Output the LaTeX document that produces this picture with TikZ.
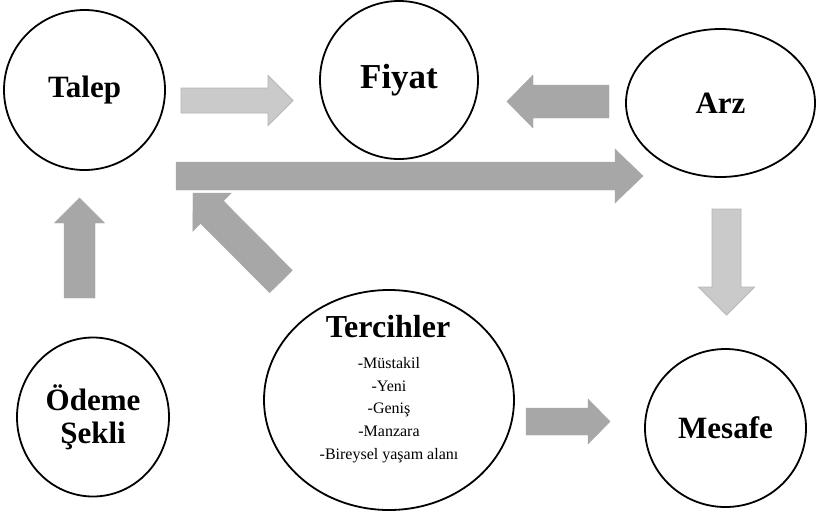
\documentclass[tikz,border=0pt]{standalone}
\usepackage{fontspec}
\setmainfont{Liberation Serif}
\usetikzlibrary{calc,shapes.geometric}
\definecolor{lightarr}{RGB}{202,202,202}
\definecolor{lightedge}{RGB}{182,182,182}
\definecolor{darkarr}{RGB}{167,167,167}
% #1 style, #2 tail, #3 tip, #4 half body, #5 half head, #6 head length
\newcommand\BlockArrow[6]{%
  \coordinate (ba-h) at ($(#3)!#6!(#2)$);
  \path[#1] ($(#2)!#4!90:(#3)$) -- ($(ba-h)!#4!90:(#3)$) -- ($(ba-h)!#5!90:(#3)$)
    -- (#3) -- ($(ba-h)!#5!-90:(#3)$) -- ($(ba-h)!#4!-90:(#3)$) -- ($(#2)!#4!-90:(#3)$) -- cycle;
}
\tikzset{
  bubble/.style={draw=black, line width=1.8pt, ellipse, inner sep=0pt, fill=white,
    font=\bfseries\fontsize{31}{33}\selectfont, align=center},
  lightarrow/.style={fill=lightarr, draw=lightedge, line width=0.8pt},
  darkarrow/.style={fill=darkarr, draw=darkarr, line width=0.4pt},
  listtext/.style={font=\fontsize{16}{22.7}\selectfont, align=center, inner sep=0pt},
}
\begin{document}
\begin{tikzpicture}[x=1pt,y=-1pt]
\useasboundingbox (0,0) rectangle (816,512);
\fill[white] (0,0) rectangle (816,512);

% nodes
\node[bubble, minimum width=161pt, minimum height=160pt] (talep) at (84.5,90) {Talep};
\node[bubble, minimum width=158pt, minimum height=158pt, font=\bfseries\fontsize{35}{37}\selectfont] (fiyat) at (399,80) {Fiyat};
\node[bubble, minimum width=189pt, minimum height=148pt] (arz) at (720.5,103) {Arz};
\node[bubble, minimum width=152pt, minimum height=159pt] (odeme) at (93,417) {Ödeme\\Şekli};
\node[bubble, minimum width=250pt, minimum height=220pt] (terc) at (389,400) {};
\node[bubble, minimum width=161pt, minimum height=158pt] (mesafe) at (725.5,428) {Mesafe};

\node[font=\bfseries\fontsize{32}{34}\selectfont, inner sep=0pt] (tercT) at ($(terc.center)+(-1,-73)$) {Tercihler};
\node[listtext, anchor=north] (tercL) at ($(terc.center)+(0,-43)$)
  {-Müstakil\\-Yeni\\-Geniş\\-Manzara\\-Bireysel yaşam alanı};

% arrow end points
\coordinate (a1s) at (181,100.5);   \coordinate (a1e) at (293,100.5);
\coordinate (a2s) at (609,101.5);   \coordinate (a2e) at (507,101.5);
\coordinate (a3s) at (176,176);     \coordinate (a3e) at (643,176);
\coordinate (a4s) at (79.5,298);    \coordinate (a4e) at (79.5,198);
\coordinate (a5s) at (281,281.5);   \coordinate (a5e) at (193,193);
\coordinate (a6s) at (726.5,209);   \coordinate (a6e) at (726.5,315);
\coordinate (a7s) at (526,421.5);   \coordinate (a7e) at (610,421.5);

\BlockArrow{lightarrow}{a1s}{a1e}{12.5pt}{25pt}{25pt}
\BlockArrow{darkarrow}{a2s}{a2e}{16.5pt}{26.5pt}{26pt}
\BlockArrow{darkarrow}{a3s}{a3e}{14pt}{27pt}{28pt}
\BlockArrow{darkarrow}{a4s}{a4e}{15.5pt}{25pt}{25pt}
\BlockArrow{darkarrow}{a5s}{a5e}{16pt}{27pt}{27pt}
\BlockArrow{lightarrow}{a6s}{a6e}{14.5pt}{28pt}{28pt}
\BlockArrow{darkarrow}{a7s}{a7e}{13.5pt}{22.5pt}{22pt}
\end{tikzpicture}
\end{document}
